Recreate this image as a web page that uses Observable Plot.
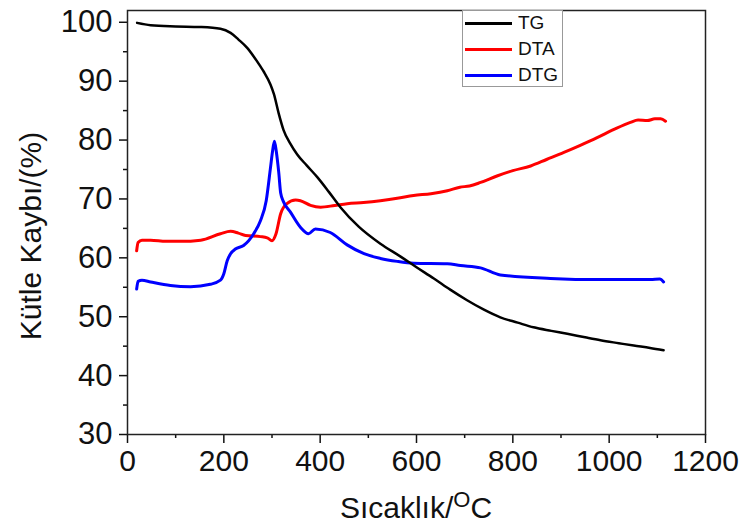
<!DOCTYPE html>
<html>
<head>
<meta charset="utf-8">
<script src="https://cdn.jsdelivr.net/npm/d3@7"></script>
<script src="https://cdn.jsdelivr.net/npm/@observablehq/plot@0.6"></script>
<style>
  body { margin: 0; background: #fff; }
  #wrap { position: relative; width: 745px; height: 532px; font-family: "Liberation Sans", Arial, sans-serif; }
  #legend { position: absolute; left: 462px; top: 10px; width: 101px; height: 77px; border: 1px solid #999; background: #fff; box-sizing: border-box; }
  .item { position: absolute; left: 2px; height: 20px; }
  .item .sw { position: absolute; left: 0; top: 9px; width: 47px; height: 3px; }
  .item .lb { position: absolute; left: 53px; top: 0; font-size: 19px; line-height: 20px; color: #111; }
</style>
</head>
<body>
<div id="wrap"></div>
<script>
// TG (mass loss)
const tgT = [20, 48, 100, 150, 193, 214, 230, 248, 262, 276, 283, 297, 304, 314, 324, 338, 352, 372, 394, 418, 442, 480, 525, 567, 600, 636, 670, 705, 740, 774, 810, 843, 880, 913, 950, 982, 1020, 1051, 1085, 1113];
const tgV = [99.9, 99.5, 99.3, 99.2, 98.9, 98.2, 97.1, 95.7, 94.2, 92.5, 91.6, 89.4, 87.8, 84.5, 81.7, 79.4, 77.6, 75.7, 73.7, 71.2, 68.6, 65.3, 62.4, 60.2, 58.4, 56.5, 54.6, 52.8, 51.2, 49.9, 49.0, 48.2, 47.6, 47.1, 46.5, 46.0, 45.5, 45.1, 44.7, 44.3];
// DTA
const dtaT = [19, 22, 30, 48, 80, 110, 152, 193, 214, 230, 245, 276, 290, 300, 308, 318, 331, 349, 359, 380, 401, 430, 456, 490, 525, 560, 594, 630, 664, 690, 710, 733, 767, 800, 837, 870, 906, 940, 975, 1010, 1044, 1060, 1079, 1095, 1107, 1117];
const dtaV = [61.2, 62.6, 63.0, 63.0, 62.8, 62.8, 63.0, 64.1, 64.5, 64.2, 63.8, 63.6, 63.4, 62.9, 64.0, 67.5, 69.2, 69.8, 69.7, 68.9, 68.6, 68.9, 69.2, 69.4, 69.7, 70.1, 70.6, 70.9, 71.4, 72.0, 72.2, 72.8, 73.9, 74.8, 75.6, 76.7, 77.9, 79.1, 80.4, 81.8, 83.0, 83.4, 83.3, 83.6, 83.6, 83.2];
// DTG
const dtgT = [19, 22, 30, 48, 89, 131, 172, 193, 200, 207, 214, 224, 241, 262, 276, 288, 297, 301, 305, 309, 314, 318, 324, 338, 359, 376, 390, 421, 456, 491, 525, 560, 594, 664, 691, 733, 774, 878, 982, 1086, 1105, 1113];
const dtgV = [54.7, 56.0, 56.2, 55.9, 55.3, 55.1, 55.5, 56.2, 57.3, 59.5, 60.7, 61.5, 62.1, 64.1, 66.3, 69.7, 75.4, 78.0, 79.8, 78.0, 74.5, 71.0, 69.5, 67.8, 65.2, 64.1, 64.9, 64.3, 62.2, 60.7, 59.9, 59.4, 59.1, 59.0, 58.7, 58.3, 57.1, 56.5, 56.3, 56.3, 56.4, 55.9];

const seriesNames = ["TG", "DTA", "DTG"];
const seriesColors = ["#000000", "#ff0000", "#0000ff"];
const xMajor = [0, 200, 400, 600, 800, 1000, 1200];
const xMinor = [100, 300, 500, 700, 900, 1100];
const yMajor = [30, 40, 50, 60, 70, 80, 90, 100];
const yMinor = [35, 45, 55, 65, 75, 85, 95];
const yTitle = "Kütle Kaybı/(%)";
const xTitleMain = "Sıcaklık/";
const xTitleSup = "O";
const xTitleEnd = "C";

const toRows = (T, V) => T.map((t, i) => ({t, v: V[i]}));
const tg = toRows(tgT, tgV), dta = toRows(dtaT, dtaV), dtg = toRows(dtgT, dtgV);

const plot = Plot.plot({
  width: 745,
  height: 532,
  marginLeft: 127,
  marginRight: 40,
  marginTop: 10,
  marginBottom: 98,
  style: {fontFamily: "'Liberation Sans', Arial, sans-serif", fontSize: "30px", color: "#111", background: "#fff"},
  x: {domain: [0, 1200]},
  y: {domain: [30, 102]},
  marks: [
    Plot.axisX({ticks: xMajor, tickSize: 9, tickPadding: 6, fontSize: 30, label: null, tickFormat: d => String(d), strokeWidth: 1.5}),
    Plot.axisX({ticks: xMinor, tickSize: 4, text: null, label: null, strokeWidth: 1.5}),
    Plot.axisY({ticks: yMajor, tickSize: 8, tickPadding: 7, fontSize: 31, label: null, strokeWidth: 1.5}),
    Plot.axisY({ticks: yMinor, tickSize: 4, text: null, label: null, strokeWidth: 1.5}),
    Plot.line(dta, {x: "t", y: "v", stroke: seriesColors[1], strokeWidth: 3, curve: "monotone-x"}),
    Plot.line(dtg, {x: "t", y: "v", stroke: seriesColors[2], strokeWidth: 3, curve: "monotone-x"}),
    Plot.line(tg, {x: "t", y: "v", stroke: seriesColors[0], strokeWidth: 2.5, curve: "monotone-x"}),
    Plot.frame({stroke: "#222", strokeWidth: 1.5})
  ]
});

const svg = d3.select(plot);
// axis titles
svg.append("text")
  .attr("transform", "translate(41,236) rotate(-90)")
  .attr("text-anchor", "middle")
  .attr("font-size", 30)
  .attr("fill", "#111")
  .text(yTitle);
const xt = svg.append("text")
  .attr("x", 416).attr("y", 518)
  .attr("text-anchor", "middle")
  .attr("font-size", 30)
  .attr("fill", "#111");
xt.append("tspan").text(xTitleMain);
xt.append("tspan").attr("font-size", 22).attr("dy", -11).text(xTitleSup);
xt.append("tspan").attr("dy", 11).text(xTitleEnd);

const wrap = document.getElementById("wrap");
wrap.appendChild(plot);

// legend
const lg = document.createElement("div");
lg.id = "legend";
seriesNames.forEach((n, i) => {
  const it = document.createElement("div");
  it.className = "item";
  it.style.top = (2 + i * 26) + "px";
  it.innerHTML = `<div class="sw" style="background:${seriesColors[i]}"></div><div class="lb">${n}</div>`;
  lg.appendChild(it);
});
wrap.appendChild(lg);
</script>
</body>
</html>
